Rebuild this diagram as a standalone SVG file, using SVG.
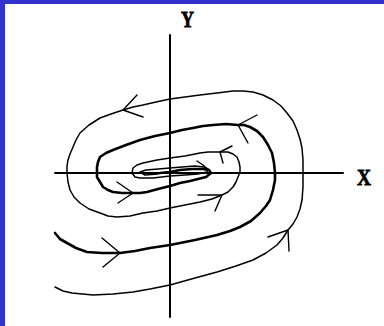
<svg xmlns="http://www.w3.org/2000/svg" width="384" height="326" viewBox="0 0 384 326">
  <style>
    .ln { fill: none; stroke: #000; stroke-linejoin: round; stroke-linecap: round; }
    .axis { stroke-width: 2; }
    .thin { stroke-width: 1.5; }
    .thick { stroke-width: 2.6; }
    .arr { stroke-width: 1.4; }
    .lbl { font-family: "Liberation Serif", "DejaVu Serif", serif; font-weight: bold; font-size: 24px; fill: #000; stroke: #000; stroke-width: 0.8; }
  </style>
  <rect x="0" y="0" width="384" height="326" fill="#3333cc"/>
  <rect x="5" y="4" width="379" height="322" fill="#ffffff"/>

  <g id="axes">
    <line class="ln axis" x1="170" y1="35" x2="170" y2="317"/>
    <line class="ln axis" x1="55" y1="173" x2="343" y2="173"/>
  </g>

  <g id="labels">
    <text class="lbl" x="181" y="27" textLength="13" lengthAdjust="spacingAndGlyphs">Y</text>
    <text class="lbl" x="357" y="185" textLength="14" lengthAdjust="spacingAndGlyphs">X</text>
  </g>

  <g id="trajectories">
    <polyline id="thin-spiral" class="ln thin" points="55,287 63,291 72,293 93,295 113,294 133,292 150,289 170,285 195,278 217,272 236,266 253,260 266,253 277,245 283,238 288,230 293,224 297,217 300,209 302,200 303,187 303,173 303,160 302,148 300,139 297,130 293,121 287,113 281,106 273,100 263,95 253,92 243,91 233,91 217,93 200,95 185,97 170,99 156,102 143,105 133,107 123,110 111,114 100,118 89,125 80,133 76,140 73,147 70,154 68,160 67,166 67,173 68,182 70,190 74,197 80,203 89,209 100,213 108,216 117,217 130,216 143,213 157,211 170,208 185,205 200,202 212,199 222,195 228,192 233,187 236,182 238,177 240,172 240,167 239,162 237,157 233,154 228,152 218,152 208,152 200,153 185,156 170,158 157,160 143,163 137,165 133,168 132,173 135,177 140,178 153,178 170,176 185,175 198,174 207,172 208,169 204,167 195,166 182,167 170,168 158,169 146,170 140,172 145,175 158,174"/>
    <polyline id="thick-spiral" class="ln thick" points="55,233 60,239 67,243 76,248 87,252 102,253 120,253 135,251 150,248 170,245 195,240 217,235 230,231 240,227 251,221 260,213 266,206 270,200 273,190 275,180 275,173 274,163 272,153 268,145 263,137 257,131 250,127 244,125 238,125 226,124 213,125 203,126 193,128 182,130 170,133 155,136 140,140 126,145 113,150 106,153 100,157 98,162 97,167 97,172 97,177 100,182 103,187 108,190 113,192 122,193 132,193 140,193 147,192 158,189 170,186 180,183 190,181 198,179 206,177 211,173 209,170 203,169 192,169 180,170 170,172 160,173"/>
  </g>

  <g id="arrows">
    <polyline class="ln arr" points="137,95 123,110 143,117"/>
    <polyline class="ln arr" points="257,115 238,125 248,143"/>
    <polyline class="ln arr" points="232,146 220,152 223,163"/>
    <polyline class="ln arr" points="198,195 222,195 215,211"/>
    <polyline class="ln arr" points="117,182 133,193 118,203"/>
    <polyline class="ln arr" points="102,238 120,253 103,267"/>
    <polyline class="ln arr" points="268,237 288,230 289,251"/>
    <polyline class="ln arr" points="197,161 203,165 207,169"/>
  </g>
</svg>
